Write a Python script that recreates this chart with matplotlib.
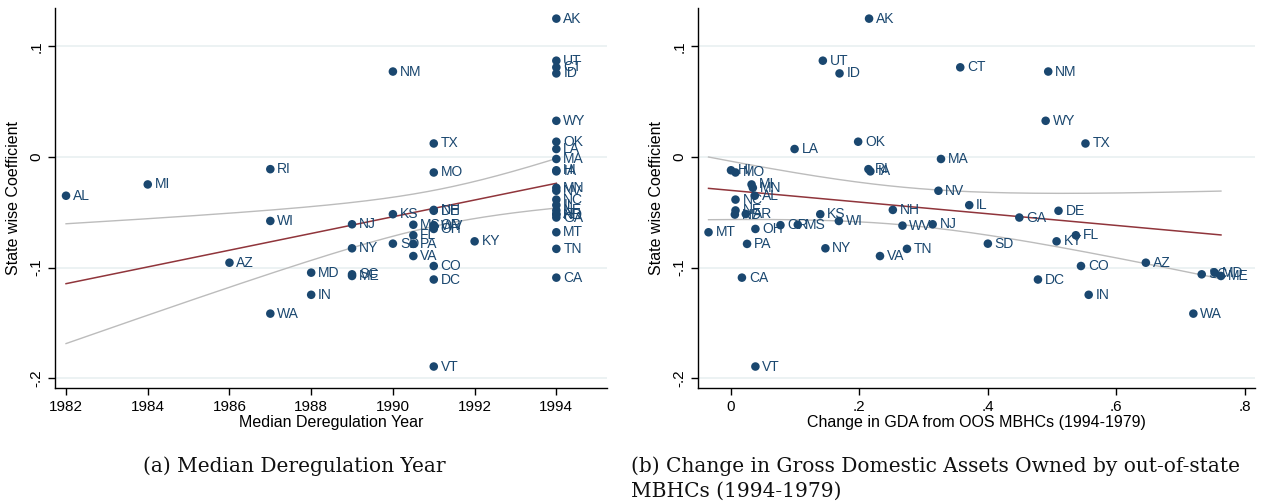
# State-wise coefficients vs deregulation year / change in GDA (two panels)
import numpy as np
import matplotlib
matplotlib.use('Agg')
import matplotlib.pyplot as plt

plt.rcParams['font.family'] = ['Liberation Sans', 'DejaVu Sans']

# data
states = ['AK', 'AL', 'AR', 'AZ', 'CA', 'CO', 'CT', 'DC', 'DE', 'FL',
          'GA', 'HI', 'IA', 'ID', 'IL', 'IN', 'KS', 'KY', 'LA', 'MA',
          'MD', 'ME', 'MI', 'MN', 'MO', 'MS', 'MT', 'NC', 'ND', 'NE',
          'NH', 'NJ', 'NM', 'NV', 'NY', 'OH', 'OK', 'OR', 'PA', 'RI',
          'SC', 'SD', 'TN', 'TX', 'UT', 'VA', 'VT', 'WA', 'WI', 'WV', 'WY']
dereg_year = [1994, 1982, 1994, 1986, 1994, 1991, 1994, 1991, 1991, 1990.5,
              1994, 1994, 1994, 1994, 1994, 1988, 1990, 1992, 1994, 1994,
              1988, 1989, 1984, 1994, 1991, 1990.5, 1994, 1994, 1994, 1994,
              1991, 1989, 1990, 1994, 1989, 1991, 1994, 1991, 1990.5, 1987,
              1989, 1990, 1994, 1991, 1994, 1990.5, 1991, 1987, 1987, 1991, 1994]
gda_change = [0.215, 0.037, 0.023, 0.646, 0.017, 0.545, 0.357, 0.478, 0.510, 0.537,
              0.449, 0.000, 0.217, 0.169, 0.371, 0.557, 0.139, 0.507, 0.099, 0.327,
              0.753, 0.763, 0.032, 0.034, 0.007, 0.104, -0.035, 0.007, 0.006, 0.007,
              0.252, 0.314, 0.494, 0.323, 0.147, 0.038, 0.198, 0.077, 0.025, 0.214,
              0.733, 0.400, 0.274, 0.552, 0.143, 0.232, 0.038, 0.720, 0.168, 0.267, 0.490]
coef = [0.125, -0.035, -0.0515, -0.0955, -0.109, -0.0985, 0.081, -0.1107, -0.0486, -0.0707,
        -0.0547, -0.0120, -0.0130, 0.0755, -0.0435, -0.1245, -0.0517, -0.0762, 0.0072, -0.0018,
        -0.1045, -0.1075, -0.0248, -0.0278, -0.0140, -0.0612, -0.068, -0.0385, -0.0520, -0.0483,
        -0.0478, -0.0608, 0.0772, -0.0305, -0.0825, -0.0650, 0.0138, -0.0616, -0.0785, -0.0110,
        -0.1060, -0.0783, -0.0830, 0.0122, 0.0870, -0.0895, -0.1893, -0.1415, -0.0578, -0.0620, 0.0327]

yticks = [-0.2, -0.1, 0, 0.1]
ytick_labels = ['-.2', '-.1', '0', '.1']
year_ticks = [1982, 1984, 1986, 1988, 1990, 1992, 1994]
gda_ticks = [0, 0.2, 0.4, 0.6, 0.8]
gda_tick_labels = ['0', '.2', '.4', '.6', '.8']

navy = '#1a476f'
maroon = '#90353b'
ci_grey = '#bcbcbc'
grid_col = '#e9f0f1'


def fit_ci(x, y, t=2.0096):
    # linear fit with 95% CI of the mean prediction (like Stata lfitci)
    x = np.asarray(x, float)
    y = np.asarray(y, float)
    n = len(x)
    b1, b0 = np.polyfit(x, y, 1)
    resid = y - (b0 + b1 * x)
    s2 = np.sum(resid ** 2) / (n - 2)
    xs = np.linspace(x.min(), x.max(), 200)
    se = np.sqrt(s2 * (1 / n + (xs - x.mean()) ** 2 / np.sum((x - x.mean()) ** 2)))
    yh = b0 + b1 * xs
    return xs, yh, yh - t * se, yh + t * se


def panel(ax, x, xlim, xticks, xticklabels, xlabel):
    for yv in yticks:
        ax.axhline(yv, color=grid_col, lw=1.2, zorder=0)
    xs, yh, lo, hi = fit_ci(x, coef)
    ax.plot(xs, lo, color=ci_grey, lw=1.0, zorder=1)
    ax.plot(xs, hi, color=ci_grey, lw=1.0, zorder=1)
    ax.plot(xs, yh, color=maroon, lw=1.1, zorder=2)
    ax.scatter(x, coef, s=38, color=navy, edgecolors='none', zorder=3)
    for st, xv, yv in zip(states, x, coef):
        ax.annotate(st, (xv, yv), xytext=(5, 0), textcoords='offset points',
                    va='center', ha='left', fontsize=10, color=navy, zorder=4)
    ax.set_xlim(*xlim)
    ax.set_ylim(-0.2087, 0.1346)
    ax.set_xticks(xticks)
    ax.set_xticklabels(xticklabels)
    ax.set_yticks(yticks)
    ax.set_yticklabels(ytick_labels, rotation=90, va='center')
    ax.tick_params(axis='both', labelsize=11, direction='out', length=5, width=1)
    ax.set_xlabel(xlabel, fontsize=11.5, labelpad=1)
    ax.set_ylabel('State wise Coefficient', fontsize=11.5, labelpad=6)
    for side in ['top', 'right']:
        ax.spines[side].set_visible(False)
    ax.spines['left'].set_linewidth(1)
    ax.spines['bottom'].set_linewidth(1)


fig = plt.figure(figsize=(12.86, 5.03), dpi=100)
ax1 = fig.add_axes([55 / 1286, 115 / 503, 552 / 1286, 380 / 503])
ax2 = fig.add_axes([698 / 1286, 115 / 503, 557 / 1286, 380 / 503])

panel(ax1, dereg_year, (1981.73, 1995.24), year_ticks, [str(y) for y in year_ticks],
      'Median Deregulation Year')
panel(ax2, gda_change, (-0.0514, 0.816), gda_ticks, gda_tick_labels,
      'Change in GDA from OOS MBHCs (1994-1979)')

cap = dict(fontsize=14.5, family=['DejaVu Serif'], color='#111111')
fig.text(294 / 1286, 1 - 466 / 503, '(a) Median Deregulation Year', ha='center', va='center', **cap)
fig.text(631 / 1286, 1 - 466 / 503, '(b) Change in Gross Domestic Assets Owned by out-of-state',
         ha='left', va='center', **cap)
fig.text(631 / 1286, 1 - 491 / 503, 'MBHCs (1994-1979)', ha='left', va='center', **cap)

fig.savefig('out.png', dpi=100)
